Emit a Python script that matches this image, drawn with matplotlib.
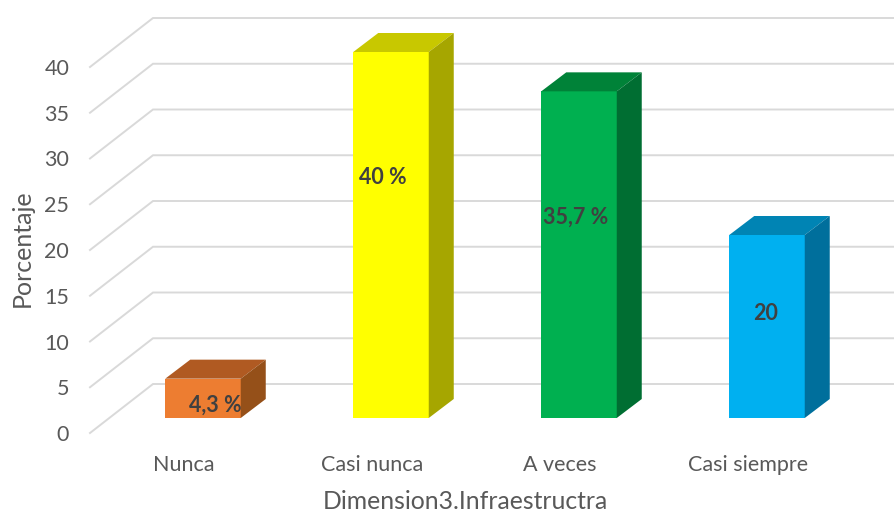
import matplotlib
matplotlib.use("Agg")
import matplotlib.pyplot as plt
from matplotlib.patches import Polygon

plt.rcParams['font.family'] = ['Lato', 'DejaVu Sans']

# Datos
categorias = ["Nunca", "Casi nunca", "A veces", "Casi siempre"]
valores = [4.3, 40, 35.7, 20]
etiquetas = ["4,3 %", "40 %", "35,7 %", "20"]
ticks_y = [0, 5, 10, 15, 20, 25, 30, 35, 40]

# Colores: frente, tapa, lateral
frente = ["#ED7D31", "#FFFF00", "#00B050", "#00B0F0"]
tapa = ["#B05A22", "#C8C800", "#008238", "#0084B4"]
lateral = ["#955019", "#A6A600", "#006E32", "#006F9C"]

W, H = 894, 513
X0, Y0 = 90, 433          # origen del eje en pixeles
PASO = 188                # pixeles por categoria
ESCALA = 9.15             # pixeles por unidad
ANCHO = 75.5 / PASO
CENTRO0 = (203 - X0) / PASO

fig = plt.figure(figsize=(W / 100, H / 100), dpi=100)
ax = fig.add_axes([X0 / W, (H - Y0) / H, (W - X0) / W, Y0 / H])
ax.set_xlim(0, (W - X0) / PASO)
ax.set_ylim(0, Y0 / ESCALA)
for s in ax.spines.values():
    s.set_visible(False)


def dx(px):
    return px / PASO


def dy(px):
    return px / ESCALA


# Rejilla: pared del fondo y diagonal del piso lateral
for t in ticks_y:
    ax.plot([0, dx(63), (W - X0) / PASO], [t, t + dy(49), t + dy(49)],
            color="#D9D9D9", lw=1.4, zorder=1, clip_on=False,
            solid_joinstyle="miter")

# Barras 3D
base = dy(15)
prof_x, prof_y = dx(25), dy(19)
for i, v in enumerate(valores):
    x1 = CENTRO0 + i - ANCHO / 2
    x2 = x1 + ANCHO
    y1, y2 = base, v + base
    ax.add_patch(Polygon([(x1, y1), (x2, y1), (x2, y2), (x1, y2)], fc=frente[i], ec="none", zorder=3))
    ax.add_patch(Polygon([(x1, y2), (x2, y2), (x2 + prof_x, y2 + prof_y), (x1 + prof_x, y2 + prof_y)],
                         fc=tapa[i], ec="none", zorder=3))
    ax.add_patch(Polygon([(x2, y1), (x2 + prof_x, y1 + prof_y), (x2 + prof_x, y2 + prof_y), (x2, y2)],
                         fc=lateral[i], ec="none", zorder=3))

# Etiquetas de datos, movidas a mano como en el original
etq_x = [215, 382.5, 576, 766]
etq_y = [405, 177, 217, 313]
for i, txt in enumerate(etiquetas):
    ax.text(dx(etq_x[i] - X0), (Y0 - etq_y[i]) / ESCALA, txt, ha="center", va="center",
            fontsize=15.5, fontweight="bold", color="#404040", zorder=5)

# Ejes
ax.set_yticks(ticks_y)
ax.set_yticklabels([str(t) for t in ticks_y])
ax.set_xticks([CENTRO0 + i - dx(19) for i in range(len(categorias))])
ax.set_xticklabels(categorias)
ax.tick_params(axis="both", length=0, labelsize=15.5, labelcolor="#595959")
ax.tick_params(axis="y", pad=15)
ax.tick_params(axis="x", pad=15.5)

ax.set_ylabel("Porcentaje", fontsize=18, color="#595959")
ax.yaxis.set_label_coords((22 - X0) / (W - X0), (Y0 - 248) / Y0)
ax.set_xlabel("Dimension3.Infraestructra", fontsize=17.8, color="#595959")
ax.xaxis.set_label_coords((465 - X0) / (W - X0), (Y0 - 501.5) / Y0)
ax.xaxis.label.set_va("center")
ax.yaxis.label.set_va("center")

fig.savefig("out.png", dpi=100)
